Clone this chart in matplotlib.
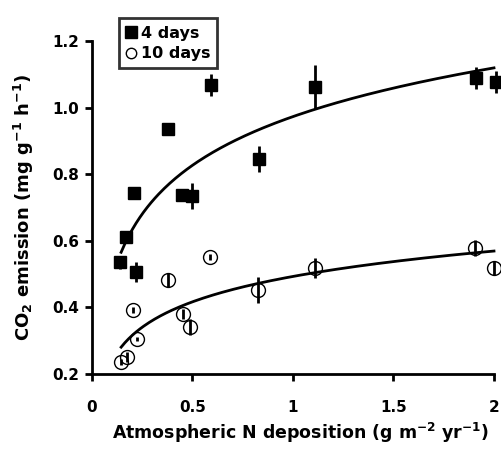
import matplotlib
matplotlib.use("Agg")
import matplotlib.pyplot as plt
import numpy as np

plt.rcParams['font.family'] = ['DejaVu Sans']
plt.rcParams['font.weight'] = 'bold'
plt.rcParams['mathtext.fontset'] = 'custom'
plt.rcParams['mathtext.rm'] = 'DejaVu Sans:bold'
plt.rcParams['mathtext.it'] = 'DejaVu Sans:bold'
plt.rcParams['mathtext.bf'] = 'DejaVu Sans:bold'

# 4 days (filled squares)
x4 = [0.14, 0.17, 0.21, 0.22, 0.38, 0.45, 0.50, 0.59, 0.83, 1.11, 1.91, 2.01]
y4 = [0.535, 0.61, 0.743, 0.506, 0.936, 0.737, 0.735, 1.068, 0.846, 1.062, 1.089, 1.077]
e4 = [0.02, 0.01, 0.01, 0.03, 0.005, 0.01, 0.04, 0.033, 0.04, 0.065, 0.033, 0.033]

# 10 days (open circles)
x10 = [0.145, 0.174, 0.205, 0.224, 0.378, 0.453, 0.488, 0.587, 0.826, 1.109, 1.906, 2.0]
y10 = [0.236, 0.251, 0.392, 0.305, 0.482, 0.38, 0.341, 0.551, 0.452, 0.518, 0.578, 0.518]
e10 = [0.01, 0.015, 0.01, 0.005, 0.02, 0.015, 0.025, 0.01, 0.04, 0.03, 0.025, 0.02]

# logarithmic trend lines y = a + b ln(x)
fit4 = (0.973, 0.211)
fit10 = (0.493, 0.110)
xfit = np.linspace(0.145, 2.0, 200)

fig = plt.figure(figsize=(5.01, 4.54), dpi=100)
ax = fig.add_axes([0.1836, 0.1762, 0.8024, 0.7335])

ax.plot(xfit, fit4[0] + fit4[1] * np.log(xfit), color='black', lw=2, clip_on=False)
ax.plot(xfit, fit10[0] + fit10[1] * np.log(xfit), color='black', lw=2, clip_on=False)

ax.errorbar(x4, y4, yerr=e4, fmt='s', color='black', ms=8.5, mfc='black', mec='black',
            ecolor='black', elinewidth=2, capsize=0, clip_on=False, label='4 days')
ax.errorbar(x10, y10, yerr=e10, fmt='o', color='black', ms=10, mfc='none', mec='black',
            mew=1.0, ecolor='black', elinewidth=2, capsize=0, clip_on=False, label='10 days')
for c in ax.containers:
    for art in c.get_children():
        art.set_clip_on(False)

ax.set_xlim(0, 2)
ax.set_ylim(0.2, 1.2)
ax.set_xticks([0, 0.5, 1, 1.5, 2])
ax.set_xticklabels(['0', '0.5', '1', '1.5', '2'])
ax.set_yticks([0.2, 0.4, 0.6, 0.8, 1.0, 1.2])
ax.set_yticklabels(['0.2', '0.4', '0.6', '0.8', '1.0', '1.2'])
ax.spines['top'].set_visible(False)
ax.spines['right'].set_visible(False)
ax.spines['left'].set_linewidth(2)
ax.spines['bottom'].set_linewidth(2)
ax.tick_params(direction='out', length=5, width=2, labelsize=11)
ax.tick_params(axis='x', pad=14)
ax.tick_params(axis='y', pad=4)

ax.set_xlabel(r'Atmospheric N deposition (g m$^{-2}$ yr$^{-1}$)', fontsize=12.5, fontweight='bold', labelpad=8)
ax.xaxis.set_label_coords(0.52, -0.14)
ax.set_ylabel(r'CO$_2$ emission (mg g$^{-1}$ h$^{-1}$)', fontsize=13, fontweight='bold', labelpad=12)

handles, labels = ax.get_legend_handles_labels()
leg = ax.legend([h[0] for h in handles], labels, loc='upper left',
                bbox_to_anchor=(0.222, 0.977), bbox_transform=fig.transFigure,
                frameon=True, fancybox=False, edgecolor='black', handlelength=0.6,
                handletextpad=0.3, borderpad=0.45, labelspacing=0.35,
                prop={'weight': 'bold', 'size': 11.5})
leg.get_frame().set_linewidth(2)
leg.legend_handles[0].set_markersize(9)
leg.legend_handles[1].set_markersize(7.5)

fig.savefig('out.png', dpi=100)
